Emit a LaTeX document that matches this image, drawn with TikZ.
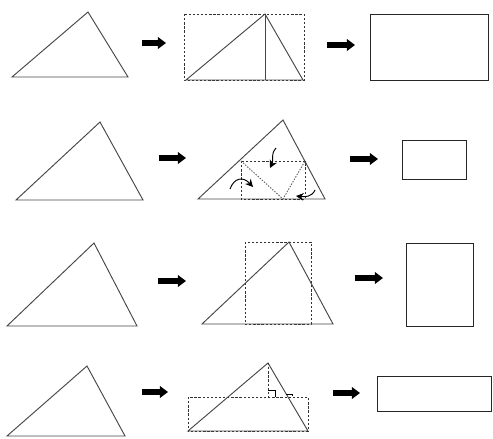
\documentclass[tikz,border=0pt]{standalone}
\usepackage{tikz}
\usetikzlibrary{arrows.meta}
\definecolor{trigray}{RGB}{70, 70, 70}
\definecolor{foldgray}{RGB}{95, 95, 95}

\begin{document}
\begin{tikzpicture}[x=0.03cm, y=-0.03cm,
    tri/.style={draw=trigray, line width=0.8pt, line join=miter},
    box/.style={draw=black!85, line width=0.8pt},
    fold/.style={draw=black!80, line width=0.7pt, dash pattern=on 2pt off 1.5pt},
    crease/.style={draw=foldgray, line width=0.8pt, dash pattern=on 1.2pt off 1.2pt},
    blockarrow/.style={line width=4.5pt, -{Triangle[length=7pt, width=10pt]}},
    turn/.style={line width=0.8pt, -{Stealth[length=6.5pt, width=6.5pt]}}]

\useasboundingbox (0,0) rectangle (493,439);

% === Fila 1: altura ===
\draw[tri] (12,77) -- (88,12) -- (128,77) -- cycle;
\coordinate (a1s) at (142,43);
\coordinate (a1e) at (166,43);
\draw[blockarrow] (a1s) -- (a1e);

\draw[fold] (184,14) rectangle (304,80);
\draw[tri] (186,80) -- (265,14) -- (303,80) -- cycle;
\draw[tri] (265,14) -- (265,80);
\coordinate (a2s) at (327,45);
\coordinate (a2e) at (355,45);
\draw[blockarrow] (a2s) -- (a2e);

\draw[box] (370,14) rectangle (488,80);

% === Fila 2: doblado ===
\draw[tri] (16,200) -- (100,122) -- (143,200) -- cycle;
\coordinate (b1s) at (159,158);
\coordinate (b1e) at (186,158);
\draw[blockarrow] (b1s) -- (b1e);

\draw[tri] (198,199) -- (283,120) -- (325,199) -- cycle;
\draw[fold] (241,161) rectangle (305,199);
\draw[crease] (241,161) -- (283,199) -- (305,161);
\draw[turn] (276,148) .. controls (270,155) and (274,160) .. (270,168);
\draw[turn] (230,189) .. controls (234,178) and (243,176) .. (253,187);
\draw[turn] (315,190) .. controls (312,197) and (305,197) .. (296,196);
\coordinate (b2s) at (350,159);
\coordinate (b2e) at (378,159);
\draw[blockarrow] (b2s) -- (b2e);

\draw[box] (402,140) rectangle (466,179);

% === Fila 3: rectangulo vertical ===
\draw[tri] (7,326) -- (94,243) -- (137,326) -- cycle;
\coordinate (c1s) at (158,281);
\coordinate (c1e) at (186,281);
\draw[blockarrow] (c1s) -- (c1e);

\draw[fold] (245,242) rectangle (311,324);
\draw[tri] (202,324) -- (289,242) -- (333,324) -- cycle;
\coordinate (c2s) at (355,278);
\coordinate (c2e) at (383,278);
\draw[blockarrow] (c2s) -- (c2e);

\draw[box] (406,243) rectangle (473,326);

% === Fila 4: rectangulo horizontal ===
\draw[tri] (7,436) -- (87,366) -- (125,436) -- cycle;
\coordinate (d1s) at (142,392);
\coordinate (d1e) at (168,392);
\draw[blockarrow] (d1s) -- (d1e);

\draw[fold] (188,397) rectangle (308,431);
\draw[tri] (188,431) -- (268,363) -- (308,431) -- cycle;
\draw[fold] (268,363) -- (268,397);
\draw[line width=0.7pt] (268,390) -- (275,390) -- (275,397);
\draw[line width=0.7pt] (286,394) -- (292,394) -- (292,396);
\coordinate (d2s) at (333,393);
\coordinate (d2e) at (360,393);
\draw[blockarrow] (d2s) -- (d2e);

\draw[box] (377,376) rectangle (491,411);

\end{tikzpicture}
\end{document}
